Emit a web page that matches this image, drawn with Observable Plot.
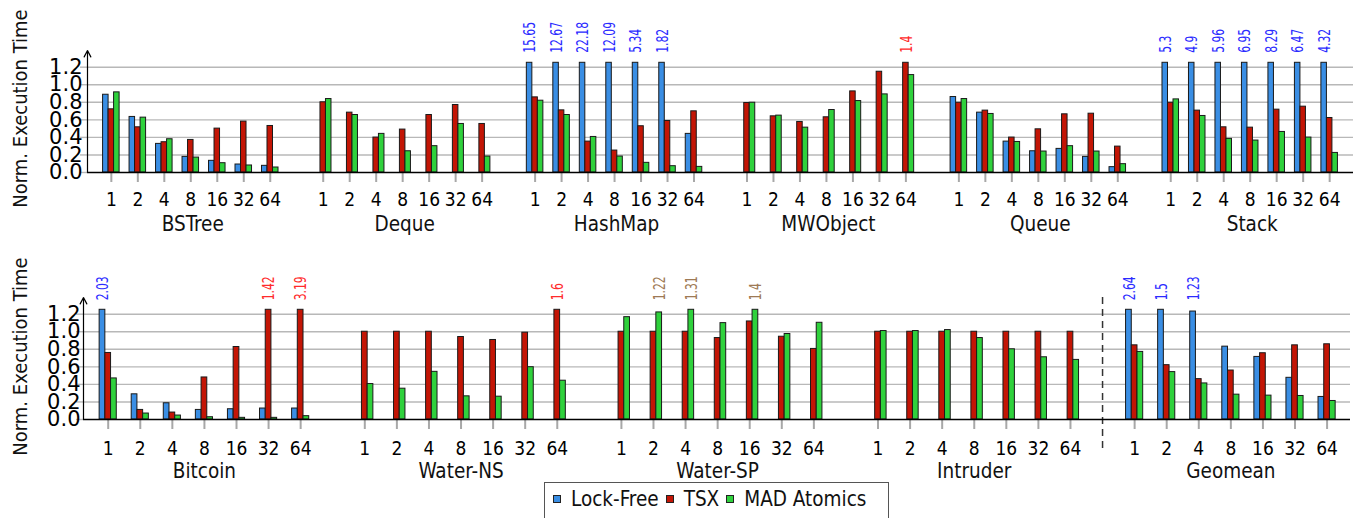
<!DOCTYPE html>
<html>
<head>
<meta charset="utf-8">
<script src="https://cdn.jsdelivr.net/npm/d3@7"></script>
<script src="https://cdn.jsdelivr.net/npm/@observablehq/plot@0.6"></script>
<style>
  html, body { margin: 0; padding: 0; background: white; width: 1359px; height: 518px; overflow: hidden; }
  #wrap { position: relative; width: 1359px; height: 518px; }
  #wrap svg { display: block; }
  #legend { position: absolute; left: 544px; top: 482px; width: 345px; height: 46px; box-sizing: border-box;
    border: 1px solid #555; display: flex; align-items: flex-start; padding-left: 8px; padding-top: 4px;
    font-family: 'DejaVu Sans Condensed', 'DejaVu Sans', sans-serif; font-size: 20.5px; color: #111; background: white; }
  #legend .sw { width: 6px; height: 6px; border: 1px solid #222; margin-top: 8px; margin-right: 10px; }
  #legend .lb { margin-right: 7px; line-height: 24px; }
</style>
</head>
<body>
<div id="wrap"></div>
<script>
// ---------- data ----------
const threads = [1, 2, 4, 8, 16, 32, 64];
const seriesNames = ["Lock-Free", "TSX", "MAD Atomics"];
const topGroups = ["BSTree", "Deque", "HashMap", "MWObject", "Queue", "Stack"];
const bottomGroups = ["Bitcoin", "Water-NS", "Water-SP", "Intruder", "Geomean"];
const yTicks = [0, 0.2, 0.4, 0.6, 0.8, 1.0, 1.2];
const clipValue = 1.25;

// top row (null = series not present for that benchmark)
const lockFreeTop = [
  [0.886, 0.633, 0.326, 0.178, 0.133, 0.091, 0.076],   // BSTree
  null,                                                // Deque
  [15.65, 12.67, 22.18, 12.09, 5.34, 1.82, 0.44],      // HashMap
  null,                                                // MWObject
  [0.86, 0.682, 0.352, 0.242, 0.269, 0.178, 0.061],    // Queue
  [5.3, 4.9, 5.96, 6.95, 8.29, 6.47, 4.32]             // Stack
];
const tsxTop = [
  [0.72, 0.515, 0.345, 0.371, 0.50, 0.58, 0.53],
  [0.80, 0.682, 0.398, 0.489, 0.655, 0.769, 0.553],
  [0.856, 0.708, 0.352, 0.25, 0.527, 0.587, 0.697],
  [0.792, 0.64, 0.576, 0.629, 0.924, 1.148, 1.4],
  [0.795, 0.705, 0.398, 0.492, 0.663, 0.67, 0.295],
  [0.795, 0.705, 0.515, 0.511, 0.716, 0.75, 0.621]
];
const madTop = [
  [0.913, 0.625, 0.379, 0.17, 0.106, 0.08, 0.057],
  [0.837, 0.655, 0.44, 0.242, 0.30, 0.553, 0.182],
  [0.818, 0.655, 0.405, 0.182, 0.11, 0.072, 0.064],
  [0.795, 0.648, 0.511, 0.712, 0.814, 0.89, 1.11],
  [0.837, 0.667, 0.348, 0.239, 0.30, 0.239, 0.095],
  [0.833, 0.644, 0.383, 0.364, 0.462, 0.398, 0.223]
];

// bottom row
const lockFreeBottom = [
  [2.03, 0.287, 0.185, 0.109, 0.117, 0.125, 0.125],    // Bitcoin
  null,                                                // Water-NS
  null,                                                // Water-SP
  null,                                                // Intruder
  [2.64, 1.5, 1.23, 0.83, 0.713, 0.475, 0.257]         // Geomean
];
const tsxBottom = [
  [0.758, 0.109, 0.079, 0.479, 0.826, 1.42, 3.19],
  [1.0, 1.0, 1.0, 0.94, 0.906, 0.989, 1.6],
  [1.0, 1.0, 1.0, 0.928, 1.117, 0.943, 0.804],
  [1.0, 1.0, 1.0, 1.0, 1.0, 1.0, 1.0],
  [0.845, 0.619, 0.46, 0.558, 0.755, 0.845, 0.857]
];
const madBottom = [
  [0.468, 0.068, 0.045, 0.026, 0.019, 0.019, 0.038],
  [0.404, 0.351, 0.543, 0.264, 0.26, 0.596, 0.442],
  [1.166, 1.22, 1.31, 1.098, 1.4, 0.974, 1.102],
  [1.008, 1.008, 1.019, 0.928, 0.8, 0.709, 0.679],
  [0.77, 0.54, 0.411, 0.283, 0.272, 0.268, 0.211]
];

// ---------- style ----------
const barColors = ["#3a8ee4", "#c31505", "#2fd13c"];
const labelColors = ["#2b2bff", "#ff2b2b", "#9e7a55"];
const gridColor = "#b8b8b8";
const fontC = "'DejaVu Sans Condensed', 'DejaVu Sans', sans-serif";
const fontR = "'DejaVu Sans', sans-serif";
const slotsPerGroup = threads.length + 1;

function rowChart(cfg) {
  const {groups, lf, tsx, mad} = cfg;
  const series = [lf, tsx, mad];
  const data = [];
  groups.forEach((g, gi) => threads.forEach((t, ti) => {
    const pos = gi * slotsPerGroup + ti;
    series.forEach((s, si) => {
      const arr = s[gi];
      if (!arr) return;
      const v = arr[ti];
      data.push({group: g, thread: t, pos, si, series: seriesNames[si], value: v,
                 shown: Math.min(v, clipValue), cx: pos + (si - 1) * cfg.bw});
    });
  }));
  const tickPos = groups.flatMap((g, gi) => threads.map((t, ti) => gi * slotsPerGroup + ti));
  const maxPos = (groups.length - 1) * slotsPerGroup + threads.length - 1;
  const xDomain = [-cfg.padL, maxPos + cfg.padR];
  const yTop = 1.39;
  const groupCenters = groups.map((g, gi) => ({g, pos: gi * slotsPerGroup + (threads.length - 1) / 2}));
  const seps = cfg.sepBefore ? [groups.indexOf(cfg.sepBefore) * slotsPerGroup - 1] : [];

  const chart = Plot.plot({
    width: 1359,
    height: cfg.height,
    marginTop: cfg.mt, marginBottom: cfg.mb, marginLeft: cfg.ml, marginRight: cfg.mr,
    style: {fontFamily: fontC, background: "white", color: "black", overflow: "visible"},
    x: {type: "linear", domain: xDomain, axis: null},
    y: {domain: [0, yTop], axis: null},
    marks: [
      Plot.gridY(yTicks.filter(d => d > 0), {stroke: gridColor, strokeOpacity: 1, strokeWidth: 1.4}),
      Plot.axisY(yTicks, {anchor: "left", tickSize: 7, tickPadding: cfg.yTickPad, stroke: gridColor, strokeWidth: 1.4,
        tickFormat: d3.format(".1f"), fontSize: 21, fontFamily: fontR, label: null}),
      Plot.axisX(tickPos, {anchor: "bottom", tickSize: 10, tickPadding: cfg.xTickPad, stroke: "#a8a8a8", strokeWidth: 2,
        tickFormat: p => String(threads[p % slotsPerGroup]), fontSize: 19, fontFamily: fontC, label: null}),
      Plot.ruleX(seps, {stroke: "#333", strokeWidth: 1.5, strokeDasharray: "7,5", insetBottom: -34, insetTop: 0}),
      Plot.rectY(data, {x1: d => d.cx - cfg.bw / 2, x2: d => d.cx + cfg.bw / 2, y1: 0, y2: "shown",
        fill: d => barColors[d.si], stroke: "#1a1a1a", strokeWidth: 1}),
      Plot.ruleY([0], {stroke: "black", strokeWidth: 1.3}),
      Plot.arrow([0], {x1: () => xDomain[0], x2: () => xDomain[0], y1: 0, y2: yTop,
        stroke: "black", strokeWidth: 1.2, headLength: 9, headAngle: 55}),
      Plot.text(data.filter(d => d.value > 1.2), {x: "cx", y: clipValue, text: d => String(d.value),
        rotate: -90, textAnchor: "start", lineAnchor: "middle", dy: cfg.ovfDy, dx: 0.5,
        fill: d => labelColors[d.si], fontSize: 16, fontFamily: fontC, ariaDescription: "overflow"}),
      Plot.text(groupCenters, {x: "pos", text: "g", frameAnchor: "bottom", lineAnchor: "top",
        dy: 44, dx: cfg.labelDx, fontSize: 20.5, fontFamily: fontC, fill: "#111"}),
      Plot.text(["Norm. Execution Time"], {frameAnchor: "left", rotate: -90, dx: -(cfg.ml - 20), dy: cfg.titleDy,
        lineAnchor: "middle", textAnchor: "middle", fontSize: 20, fontFamily: fontC, fill: "#111"})
    ]
  });
  chart.querySelectorAll('g[aria-description="overflow"] text').forEach(t => {
    const tr = t.getAttribute("transform") || "";
    t.setAttribute("transform", tr + " scale(0.75,1)");
  });
  return chart;
}

const wrap = document.getElementById("wrap");
wrap.appendChild(rowChart({
  groups: topGroups, lf: lockFreeTop, tsx: tsxTop, mad: madTop,
  height: 245, mt: 50, mb: 73, ml: 87, mr: 6, padL: 0.9, padR: 0.9, bw: 0.208,
  yTickPad: -2, xTickPad: 10, labelDx: 2, titleDy: -3, ovfDy: -10
}));
wrap.appendChild(rowChart({
  groups: bottomGroups, lf: lockFreeBottom, tsx: tsxBottom, mad: madBottom,
  height: 237, mt: 52, mb: 63, ml: 83, mr: 9, padL: 0.77, padR: 0.73, bw: 0.178,
  yTickPad: -4, xTickPad: 12, labelDx: 0, titleDy: -2, ovfDy: -9.5, sepBefore: "Geomean"
}));

// legend
const legend = document.createElement("div");
legend.id = "legend";
seriesNames.forEach((name, i) => {
  const sw = document.createElement("div");
  sw.className = "sw";
  sw.style.background = barColors[i];
  const lb = document.createElement("div");
  lb.className = "lb";
  lb.textContent = name;
  legend.appendChild(sw);
  legend.appendChild(lb);
});
wrap.appendChild(legend);
</script>
</body>
</html>
